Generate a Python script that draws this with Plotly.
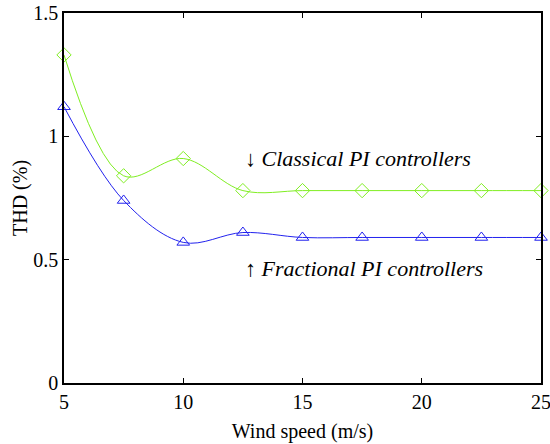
import plotly.graph_objects as go

wind_speed = [5, 7.5, 10, 12.5, 15, 17.5, 20, 22.5, 25]
thd_classical = [1.33, 0.84, 0.91, 0.78, 0.78, 0.78, 0.78, 0.78, 0.78]
thd_fractional = [1.12, 0.74, 0.57, 0.61, 0.59, 0.59, 0.59, 0.59, 0.59]
x_ticks = [5, 10, 15, 20, 25]
y_ticks = [0, 0.5, 1, 1.5]

green = "#80ee22"
blue = "#2222ee"
font = "'Liberation Serif', 'Times New Roman', serif"

fig = go.Figure()
fig.add_trace(go.Scatter(
    x=wind_speed, y=thd_classical, mode="lines+markers", cliponaxis=False,
    line=dict(color=green, width=1, shape="spline", smoothing=1.0),
    marker=dict(symbol="diamond-open", size=11, color=green, line=dict(width=1)),
    showlegend=False))
fig.add_trace(go.Scatter(
    x=wind_speed, y=thd_fractional, mode="lines+markers", cliponaxis=False,
    line=dict(color=blue, width=1, shape="spline", smoothing=1.0),
    marker=dict(symbol="triangle-up-open", size=11, color=blue, line=dict(width=1)),
    showlegend=False))

fig.add_annotation(x=12.5, y=0.912, xref="x", yref="y", xanchor="left", yanchor="middle",
                   text="\u2193 <i>Classical PI controllers</i>", showarrow=False,
                   font=dict(family=font, size=22, color="black"))
fig.add_annotation(x=12.5, y=0.466, xref="x", yref="y", xanchor="left", yanchor="middle",
                   text="\u2191 <i>Fractional PI controllers</i>", showarrow=False,
                   font=dict(family=font, size=22, color="black"))
fig.add_annotation(x=0, y=0.5, xref="paper", yref="paper", xshift=-44, xanchor="center",
                   yanchor="middle", textangle=-90, text="THD (%)", showarrow=False,
                   font=dict(family=font, size=20, color="black"))

axis_common = dict(showgrid=False, zeroline=False, showline=True, linecolor="black",
                   linewidth=1.5, mirror="ticks", ticks="inside", ticklen=5, automargin=False,
                   ticklabeloverflow="allow",
                   tickcolor="black", tickfont=dict(family=font, size=20, color="black"))
fig.update_xaxes(range=[5, 25], tickvals=x_ticks,
                 title=dict(text="Wind speed (m/s)", font=dict(family=font, size=20, color="black"), standoff=12),
                 **axis_common)
fig.update_yaxes(range=[0, 1.5], tickvals=y_ticks, ticktext=["0", "0.5", "1", "1.5"],
                 **axis_common)
fig.update_layout(width=550, height=444, margin=dict(l=64, r=9, t=13, b=61),
                  plot_bgcolor="white", paper_bgcolor="white")
fig.write_html("out.html")
